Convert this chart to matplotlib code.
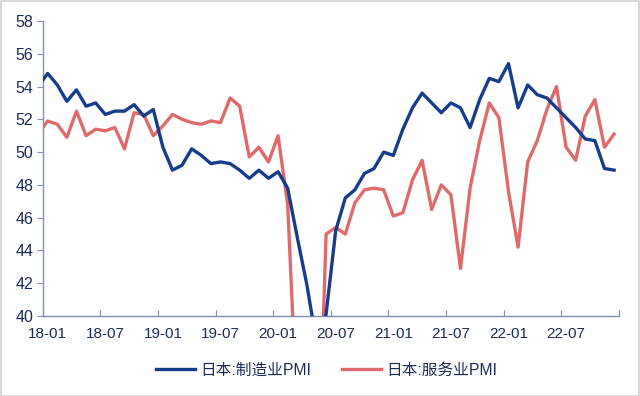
import matplotlib
matplotlib.use("Agg")
import matplotlib.pyplot as plt
import numpy as np

# Monthly data, 2017-12 through 2022-12 (first point lies just left of the axis and is clipped)
months = ["17-12"] + [f"{y:02d}-{m:02d}" for y in range(18, 23) for m in range(1, 13)]
manufacturing = [54.0,
    54.8, 54.1, 53.1, 53.8, 52.8, 53.0, 52.3, 52.5, 52.5, 52.9, 52.2, 52.6,
    50.3, 48.9, 49.2, 50.2, 49.8, 49.3, 49.4, 49.3, 48.9, 48.4, 48.9, 48.4,
    48.8, 47.8, 44.8, 41.9, 38.4, 40.1, 45.2, 47.2, 47.7, 48.7, 49.0, 50.0,
    49.8, 51.4, 52.7, 53.6, 53.0, 52.4, 53.0, 52.7, 51.5, 53.2, 54.5, 54.3,
    55.4, 52.7, 54.1, 53.5, 53.3, 52.7, 52.1, 51.5, 50.8, 50.7, 49.0, 48.9]
services = [51.1,
    51.9, 51.7, 50.9, 52.5, 51.0, 51.4, 51.3, 51.5, 50.2, 52.4, 52.3, 51.0,
    51.6, 52.3, 52.0, 51.8, 51.7, 51.9, 51.8, 53.3, 52.8, 49.7, 50.3, 49.4,
    51.0, 46.8, 33.8, 21.5, 26.5, 45.0, 45.4, 45.0, 46.9, 47.7, 47.8, 47.7,
    46.1, 46.3, 48.3, 49.5, 46.5, 48.0, 47.4, 42.9, 47.8, 50.7, 53.0, 52.1,
    47.6, 44.2, 49.4, 50.7, 52.6, 54.0, 50.3, 49.5, 52.2, 53.2, 50.3, 51.1]
tick_labels = ["18-01", "18-07", "19-01", "19-07", "20-01", "20-07",
               "21-01", "21-07", "22-01", "22-07"]
series_names = ["日本:制造业PMI", "日本:服务业PMI"]

BLUE = "#163c8c"
RED = "#e06a6b"
TXT = "#1c2b55"
AX = "#7d8fc9"

plt.rcParams['font.family'] = ['Liberation Sans', 'Noto Sans CJK SC', 'DejaVu Sans']

fig = plt.figure(figsize=(6.4, 3.96), dpi=100)
fig.patch.set_facecolor("white")
ax = fig.add_axes([0.067, 0.202, 0.900, 0.745])

x = np.arange(len(months)) - 0.5  # Jan 2018 centred at 0.5
ax.plot(x, manufacturing, color=BLUE, lw=2.4, label=series_names[0],
        solid_joinstyle="round", clip_on=True, zorder=3)
ax.plot(x, services, color=RED, lw=2.4, label=series_names[1],
        solid_joinstyle="round", clip_on=True, zorder=2)

ax.set_xlim(0, 60)
ax.set_ylim(40, 58)
ax.set_yticks(np.arange(40, 59, 2))
ax.set_xticks(np.arange(0, 61, 6))
ax.set_xticklabels([])
for i, lab in enumerate(tick_labels):
    ax.text(i * 6 + 0.5, 39.3, lab, ha="center", va="top", fontsize=11,
            color=TXT, transform=ax.transData)

for s in ["top", "right"]:
    ax.spines[s].set_visible(False)
ax.spines["left"].set_color(AX)
ax.spines["bottom"].set_color("#7f8bb0")
ax.spines["left"].set_linewidth(1.0)
ax.spines["bottom"].set_linewidth(1.0)
ax.tick_params(axis="y", direction="out", length=4, color=AX, labelcolor=TXT,
               labelsize=11.5, pad=3)
ax.tick_params(axis="x", direction="in", length=4, color="#7f8bb0")

leg = fig.legend(loc="center", bbox_to_anchor=(0.51, 0.065), ncol=2, frameon=False,
                 fontsize=11.3, handlelength=2.5, columnspacing=2.0, handletextpad=0.3)
for t in leg.get_texts():
    t.set_color(TXT)

# faint image frame
fig.patches.append(plt.Rectangle((0.002, 0.0), 0.996, 0.997, transform=fig.transFigure,
                                 fill=False, edgecolor="#cfcfcf", lw=1.2))

fig.savefig("out.png", dpi=100)
